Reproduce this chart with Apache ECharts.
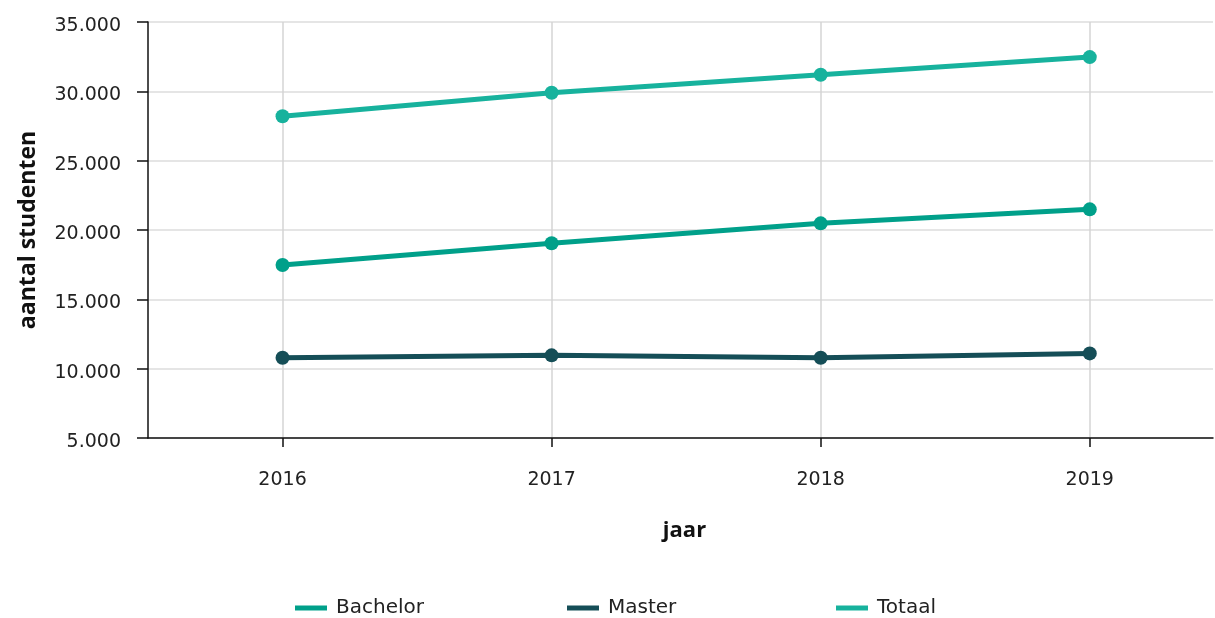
<!DOCTYPE html>
<html><head><meta charset="utf-8">
<script src="https://cdn.jsdelivr.net/npm/echarts@6/dist/echarts.min.js"></script>
<style>html,body{margin:0;padding:0;background:#fff}#c{width:1215px;height:618px}</style>
</head><body><div id="c"></div>
<script>
const years = [2016, 2017, 2018, 2019];
const bachelor = [17480, 19040, 20480, 21490];
const master = [10790, 10960, 10790, 11100];
const totaal = [28200, 29900, 31200, 32470];
const yTicks = [5000, 10000, 15000, 20000, 25000, 30000, 35000];

const colors = { Bachelor: '#00a08a', Master: '#154e57', Totaal: '#17b29d' };
const font = '"DejaVu Sans", "Open Sans", sans-serif';
const titleFont = '"Open Sans", Lato, sans-serif';
const chart = echarts.init(document.getElementById('c'));
function mk(name, vals) {
  return {
    name, type: 'line', data: years.map((y, i) => [y, vals[i]]),
    lineStyle: { width: 5, color: colors[name] },
    itemStyle: { color: colors[name] },
    symbol: 'circle', symbolSize: 14, showSymbol: true, animation: false
  };
}
function leg(name, left) {
  return {
    data: [{ name, icon: 'rect' }], left, top: 593, itemWidth: 32, itemHeight: 5,
    itemGap: 8, textStyle: { fontFamily: font, fontSize: 20, color: '#222', padding: [0, 0, 0, 4] }, selectedMode: false
  };
}
chart.setOption({
  animation: false,
  grid: { left: 148, top: 22, right: 2, bottom: 180, containLabel: false, outerBoundsMode: 'none' },
  xAxis: {
    type: 'value', min: 2015.5, max: 2019.458,
    name: 'jaar', nameLocation: 'middle', nameGap: 82,
    nameTextStyle: { fontFamily: titleFont, fontSize: 22, fontWeight: 'bold', color: '#111', padding: [0, 0, 0, 8] },
    axisLine: { lineStyle: { color: '#111', width: 1.5 } },
    axisTick: { show: true, length: 9, customValues: years, lineStyle: { color: '#111', width: 1.5 } },
    axisLabel: { customValues: years, formatter: v => String(v), margin: 33, fontFamily: font, fontSize: 19, color: '#222' },
    splitLine: { show: true, lineStyle: { color: '#d4d4d4', width: 1.5 } }
  },
  yAxis: {
    type: 'value', min: 5000, max: 35000, interval: 5000,
    name: 'aantal studenten', nameLocation: 'middle', nameGap: 108, nameRotate: 90,
    nameTextStyle: { fontFamily: titleFont, fontSize: 23, fontWeight: 'bold', color: '#111' },
    axisLine: { show: true, lineStyle: { color: '#111', width: 1.5 } },
    axisTick: { show: true, length: 11, lineStyle: { color: '#111', width: 1.5 } },
    axisLabel: { margin: 27, fontFamily: font, fontSize: 19, color: '#222',
      formatter: v => '{a|' + v.toLocaleString('nl-NL').replace(/,/g, '.') + '}',
      rich: { a: { fontFamily: font, fontSize: 19, color: '#222', padding: [8, 0, 0, 0] } } },
    splitLine: { show: true, lineStyle: { color: '#dcdcdc', width: 1.5 } }
  },
  legend: [leg('Bachelor', 290), leg('Master', 562), leg('Totaal', 831)],
  series: [mk('Bachelor', bachelor), mk('Master', master), mk('Totaal', totaal)]
});
</script></body></html>
